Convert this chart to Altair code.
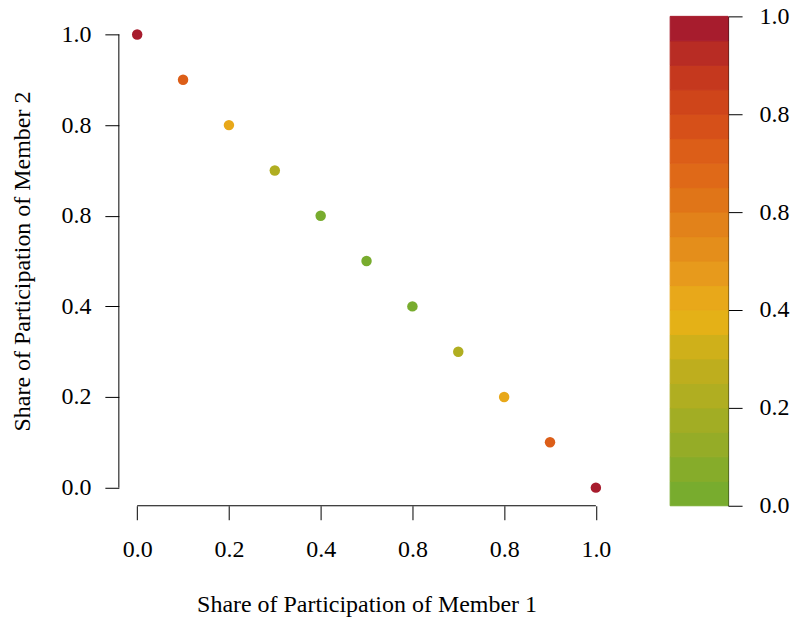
import altair as alt
import pandas as pd

# ---- data ----
member1 = [0.0, 0.1, 0.2, 0.3, 0.4, 0.5, 0.6, 0.7, 0.8, 0.9, 1.0]
member2 = [1.0, 0.9, 0.8, 0.7, 0.6, 0.5, 0.4, 0.3, 0.2, 0.1, 0.0]
color_value = [1.0, 0.72, 0.42, 0.22, 0.03, 0.0, 0.03, 0.22, 0.42, 0.72, 1.0]

tick_values = [0.0, 0.2, 0.4, 0.6, 0.8, 1.0]
tick_labels = ["0.0", "0.2", "0.4", "0.8", "0.8", "1.0"]

band_edges = [0.0, 0.05, 0.10, 0.15, 0.20, 0.25, 0.30, 0.35, 0.40, 0.45, 0.50,
              0.55, 0.60, 0.65, 0.70, 0.75, 0.80, 0.85, 0.90, 0.95, 1.0]
band_colors = ["#78AC2E", "#86AC2A", "#95AC27", "#A2AD24", "#B0AE21",
               "#BEAE1E", "#CFB01A", "#E4B117", "#E8A81A", "#E79A1C",
               "#E48E1B", "#E2821A", "#E07518", "#DF6918", "#DC5E18",
               "#D65019", "#CF451A", "#C5381E", "#B82C24", "#A71C2D"]

x_title = "Share of Participation of Member 1"
y_title = "Share of Participation of Member 2"

# ---- derived tables ----
df = pd.DataFrame({"m1": member1, "m2": member2, "c": color_value})
bands = pd.DataFrame({"lo": band_edges[:-1], "hi": band_edges[1:], "col": band_colors})
axis_span = pd.DataFrame({"a": [tick_values[0]], "b": [tick_values[-1]]})

label_expr = "[{}][indexof([{}], datum.value)]".format(
    ",".join("'" + s + "'" for s in tick_labels),
    ",".join(str(v) for v in tick_values))

FONT = "Liberation Serif"
W, H = 496, 490
pad_dom = [-0.04, 1.04]

color_scale = alt.Scale(type="threshold", domain=band_edges[1:-1], range=band_colors)
xs = alt.Scale(domain=pad_dom, nice=False, zero=False)
ys = alt.Scale(domain=pad_dom, nice=False, zero=False)

x_axis = alt.Axis(values=tick_values, labelExpr=label_expr, tickSize=14, domain=False,
                  grid=False, labelPadding=18, titlePadding=31, title=x_title)
y_axis = alt.Axis(values=tick_values, labelExpr=label_expr, tickSize=14, domain=False,
                  grid=False, labelPadding=14, titlePadding=26, title=y_title, labelAngle=0)

points = alt.Chart(df).mark_circle(size=110, opacity=1, strokeWidth=0).encode(
    x=alt.X("m1:Q", scale=xs, axis=x_axis),
    y=alt.Y("m2:Q", scale=ys, axis=y_axis),
    color=alt.Color("c:Q", scale=color_scale, legend=None),
)

x_line = alt.Chart(axis_span).mark_rule(color="black", strokeWidth=1).encode(
    x=alt.X("a:Q", scale=xs, axis=x_axis), x2="b:Q", y=alt.value(H))
y_line = alt.Chart(axis_span).mark_rule(color="black", strokeWidth=1).encode(
    y=alt.Y("a:Q", scale=ys, axis=y_axis), y2="b:Q", x=alt.value(0))

main = alt.layer(points, x_line, y_line).properties(width=W, height=H)

cbar = alt.Chart(bands).mark_rect(strokeWidth=1).encode(
    y=alt.Y("lo:Q", scale=alt.Scale(domain=[0, 1], nice=False, zero=False),
            axis=alt.Axis(orient="right", values=tick_values, labelExpr=label_expr,
                          tickSize=14, domain=True, grid=False, labelPadding=17,
                          title=None)),
    y2="hi:Q",
    color=alt.Color("col:N", scale=None, legend=None),
    stroke=alt.Color("col:N", scale=None, legend=None),
).properties(width=58, height=H)

chart = alt.hconcat(main, cbar, spacing=55).properties(
    padding={"left": 11, "top": 4, "right": 5, "bottom": 5},
    background="white",
).configure_view(stroke=None).configure_axis(
    labelFont=FONT, labelFontSize=24, labelColor="black",
    titleFont=FONT, titleFontSize=24, titleColor="black", titleFontWeight="normal",
    tickColor="black", domainColor="black", tickWidth=1, domainWidth=1,
)

chart.save("out.html", embed_options={"renderer": "svg", "actions": False})
